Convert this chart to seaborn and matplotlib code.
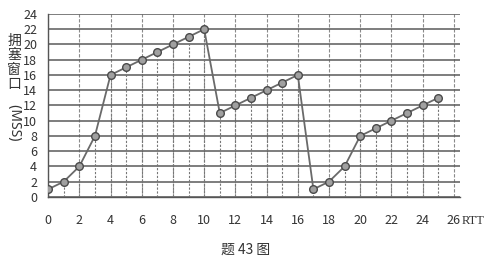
import matplotlib
matplotlib.use("Agg")
import matplotlib.pyplot as plt
import seaborn as sns
import pandas as pd

rtt = list(range(26))
cwnd = [1, 2, 4, 8, 16, 17, 18, 19, 20, 21, 22, 11, 12, 13, 14, 15, 16,
        1, 2, 4, 8, 9, 10, 11, 12, 13]
x_ticks = list(range(0, 27, 2))
y_ticks = list(range(0, 25, 2))

sns.set_theme(style="white")
plt.rcParams['font.family'] = ['Noto Sans CJK SC', 'DejaVu Sans']

df = pd.DataFrame({"RTT": rtt, "cwnd": cwnd})

fig = plt.figure(figsize=(4.91, 2.69), dpi=100)
ax = fig.add_axes([0.098, 0.268, 0.839, 0.68])

# drop lines from each point to the axis
ax.vlines(df["RTT"], 0, df["cwnd"], color="#777777", linewidth=0.8,
          linestyle=(0, (2, 1.5)), zorder=1)

sns.lineplot(data=df, x="RTT", y="cwnd", ax=ax, color="#6a6a6a", linewidth=1.3,
             marker="o", markersize=5.5, markerfacecolor="#a0a0a0",
             markeredgecolor="#4a4a4a", markeredgewidth=1.0, zorder=3)

ax.set_xlim(0, 26.4)
ax.set_ylim(0, 24)
ax.set_xticks(x_ticks)
ax.set_yticks(y_ticks)
ax.grid(which="major", axis="y", color="#5a5a5a", linewidth=1.1)
ax.grid(which="major", axis="x", color="#8a8a8a", linewidth=0.8, linestyle=(0, (3, 1.5)))
ax.set_axisbelow(True)
for s in ["top", "right"]:
    ax.spines[s].set_visible(False)
for s in ["left", "bottom"]:
    ax.spines[s].set_color("#555555")
    ax.spines[s].set_linewidth(1.0)

ax.tick_params(axis="both", which="both", length=0, labelsize=9, colors="#333333")
ax.tick_params(axis="x", pad=12)
ax.tick_params(axis="y", pad=8)
ax.set_xlabel("")
ax.set_ylabel("")

fig.text(0.94, 0.18, "RTT", fontsize=9, color="#333333", ha="left", va="center",
         family=["Liberation Serif", "DejaVu Serif"])
fig.text(0.029, 0.875, "拥\n塞\n窗\n口", fontsize=10, color="#333333", ha="center",
         va="top", linespacing=1.05)
fig.text(0.029, 0.62, "\u2009(MSS)\u2009", fontsize=10, color="#333333", ha="center", va="top",
         rotation=-90, family=["Noto Sans", "DejaVu Sans"])
fig.text(0.5, 0.07, "题 43 图", fontsize=10, color="#333333", ha="center", va="center")

fig.savefig("out.png", dpi=100, facecolor="white")
